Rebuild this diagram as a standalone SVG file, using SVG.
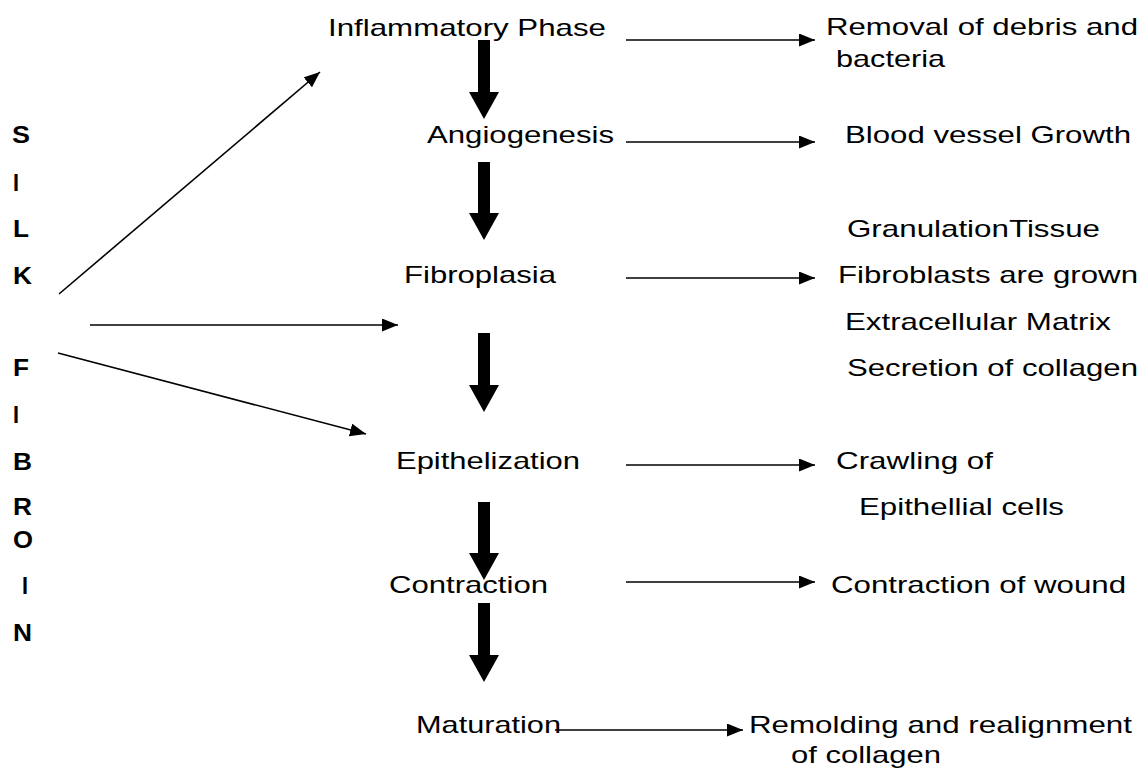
<svg xmlns="http://www.w3.org/2000/svg" width="1145" height="769" viewBox="0 0 1145 769">
<style>
text{font-family:"Liberation Sans",Arial,sans-serif;font-size:24px;fill:#000}
.silk text{font-weight:bold}
.thin{stroke:#000;stroke-width:1.6;fill:none}
.thick{fill:#000}
</style>
<defs>
<marker id="ah" markerUnits="userSpaceOnUse" markerWidth="17" markerHeight="14" refX="16" refY="6.5" orient="auto">
<path d="M0,0 L16,6.5 L0,13 z" fill="#000"/>
</marker>
</defs>
<rect width="1145" height="769" fill="#fff"/>
<g id="silk-fibroin" class="silk">
<text x="12" y="143" textLength="18" lengthAdjust="spacingAndGlyphs">S</text>
<text x="13" y="191" textLength="6" lengthAdjust="spacingAndGlyphs">I</text>
<text x="13" y="237" textLength="16" lengthAdjust="spacingAndGlyphs">L</text>
<text x="13" y="284" textLength="19" lengthAdjust="spacingAndGlyphs">K</text>
<text x="13" y="376" textLength="16" lengthAdjust="spacingAndGlyphs">F</text>
<text x="13" y="423" textLength="6" lengthAdjust="spacingAndGlyphs">I</text>
<text x="13" y="470" textLength="19" lengthAdjust="spacingAndGlyphs">B</text>
<text x="13" y="515" textLength="19" lengthAdjust="spacingAndGlyphs">R</text>
<text x="13" y="548" textLength="20" lengthAdjust="spacingAndGlyphs">O</text>
<text x="22" y="594" textLength="6" lengthAdjust="spacingAndGlyphs">I</text>
<text x="13" y="641" textLength="19" lengthAdjust="spacingAndGlyphs">N</text>
</g>
<g id="inflammatory"><text x="328" y="36" textLength="278" lengthAdjust="spacingAndGlyphs">Inflammatory Phase</text></g>
<g id="angiogenesis"><text x="427" y="143" textLength="187" lengthAdjust="spacingAndGlyphs">Angiogenesis</text></g>
<g id="fibroplasia"><text x="404" y="283" textLength="152" lengthAdjust="spacingAndGlyphs">Fibroplasia</text></g>
<g id="epithelization"><text x="396" y="469" textLength="184" lengthAdjust="spacingAndGlyphs">Epithelization</text></g>
<g id="contraction"><text x="389" y="593" textLength="159" lengthAdjust="spacingAndGlyphs">Contraction</text></g>
<g id="maturation"><text x="416" y="733" textLength="145" lengthAdjust="spacingAndGlyphs">Maturation</text></g>
<g id="removal">
<text x="826" y="35" textLength="312" lengthAdjust="spacingAndGlyphs">Removal of debris and</text>
<text x="836" y="67" textLength="109" lengthAdjust="spacingAndGlyphs">bacteria</text>
</g>
<g id="blood-vessel"><text x="845" y="143" textLength="286" lengthAdjust="spacingAndGlyphs">Blood vessel Growth</text></g>
<g id="fibro-outcomes">
<text x="847" y="237" textLength="253" lengthAdjust="spacingAndGlyphs">GranulationTissue</text>
<text x="838" y="283" textLength="300" lengthAdjust="spacingAndGlyphs">Fibroblasts are grown</text>
<text x="845" y="330" textLength="266" lengthAdjust="spacingAndGlyphs">Extracellular Matrix</text>
<text x="847" y="376" textLength="291" lengthAdjust="spacingAndGlyphs">Secretion of collagen</text>
</g>
<g id="crawling">
<text x="836" y="469" textLength="157" lengthAdjust="spacingAndGlyphs">Crawling of</text>
<text x="859" y="515" textLength="205" lengthAdjust="spacingAndGlyphs">Epithellial cells</text>
</g>
<g id="wound"><text x="831" y="593" textLength="295" lengthAdjust="spacingAndGlyphs">Contraction of wound</text></g>
<g id="remolding">
<text x="749" y="733" textLength="383" lengthAdjust="spacingAndGlyphs">Remolding and realignment</text>
<text x="791" y="763" textLength="150" lengthAdjust="spacingAndGlyphs">of collagen</text>
</g>
<g id="connectors">
<polygon class="thick" points="478,40 490,40 490,92 499,92 484,119 469,92 478,92"/>
<polygon class="thick" points="478,162 490,162 490,213 499,213 484,240 469,213 478,213"/>
<polygon class="thick" points="478,333 490,333 490,385 499,385 484,412 469,385 478,385"/>
<polygon class="thick" points="478,502 490,502 490,553 499,553 484,580 469,553 478,553"/>
<polygon class="thick" points="478,603 490,603 490,655 499,655 484,682 469,655 478,655"/>
<line class="thin" x1="626" y1="40" x2="815" y2="40" marker-end="url(#ah)"/>
<line class="thin" x1="626" y1="142" x2="815" y2="142" marker-end="url(#ah)"/>
<line class="thin" x1="626" y1="278" x2="815" y2="278" marker-end="url(#ah)"/>
<line class="thin" x1="626" y1="465" x2="815" y2="465" marker-end="url(#ah)"/>
<line class="thin" x1="626" y1="582" x2="815" y2="582" marker-end="url(#ah)"/>
<line class="thin" x1="555" y1="730" x2="743" y2="730" marker-end="url(#ah)"/>
<line class="thin" x1="59" y1="294" x2="320" y2="72" marker-end="url(#ah)"/>
<line class="thin" x1="90" y1="325" x2="398" y2="325" marker-end="url(#ah)"/>
<line class="thin" x1="58" y1="353" x2="366" y2="434" marker-end="url(#ah)"/>
</g>
</svg>
